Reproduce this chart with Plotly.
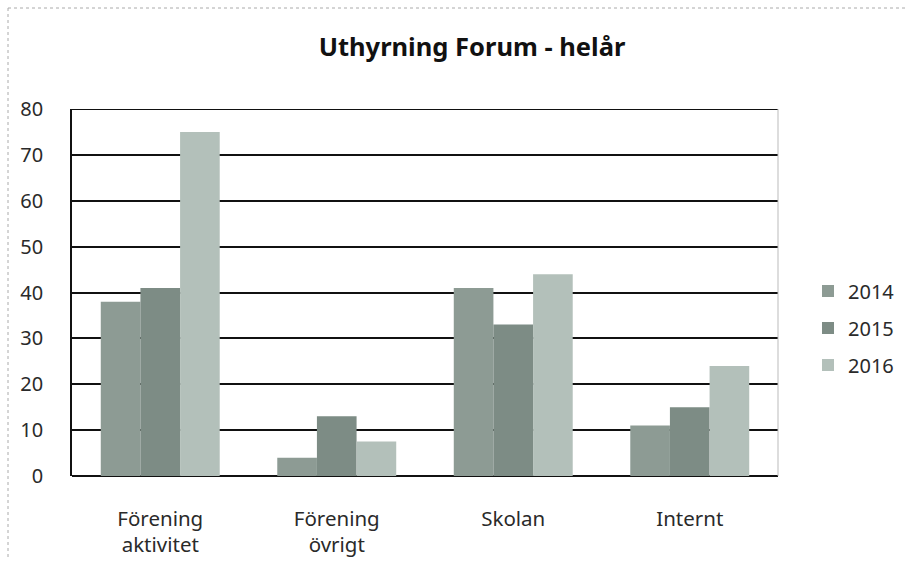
import plotly.graph_objects as go

categories = ["Förening<br>aktivitet", "Förening<br>övrigt", "Skolan", "Internt"]
years = ["2014", "2015", "2016"]
values_2014 = [38, 4, 41, 11]
values_2015 = [41, 13, 33, 15]
values_2016 = [75, 7.5, 44, 24]
tick_vals = [0, 10, 20, 30, 40, 50, 60, 70, 80]

colors = ["#8d9b94", "#7d8c85", "#b3c0ba"]
series = [values_2014, values_2015, values_2016]

fig = go.Figure()
for name, vals, c in zip(years, series, colors):
    fig.add_trace(go.Bar(x=categories, y=vals, name=name, legendgroup=name,
                         marker=dict(color=c, line=dict(width=0))))

W, H = 911, 562
L, R, T, B = 72, 133, 109, 86
pw, ph = W - L - R, H - T - B

def px_x(p):
    return (p - L) / pw

def px_y(p):
    return (H - B - p) / ph

fig.update_layout(
    width=W, height=H,
    margin=dict(l=L, r=R, t=T, b=B, autoexpand=False),
    paper_bgcolor="white", plot_bgcolor="white",
    barmode="group", bargap=0.326, bargroupgap=0,
    font=dict(family="Noto Sans, Open Sans, sans-serif", color="#2a2a2a", size=20),
    title=dict(text="<b>Uthyrning Forum - helår</b>", x=472 / W, xanchor="center",
               y=1 - 47 / H, yanchor="middle", font=dict(size=25.5, color="#111")),
    yaxis=dict(range=[0, 80], tickvals=tick_vals, showgrid=True, gridcolor="#111", gridwidth=2,
               zeroline=True, zerolinecolor="#111", zerolinewidth=2,
               showline=True, linecolor="#111", linewidth=1.5,
               ticks="", tickfont=dict(size=20), ticklabelstandoff=23),
    xaxis=dict(showline=False, ticks="", tickfont=dict(size=20.5), ticklabelstandoff=28),
    legend=dict(x=px_x(808), y=px_y(328), xanchor="left", yanchor="middle",
                font=dict(size=20), tracegroupgap=8, traceorder="grouped", itemwidth=30),
    shapes=[
        dict(type="line", xref="paper", yref="y", x0=0, x1=1, y0=80, y1=80,
             line=dict(color="#111", width=2)),
        dict(type="line", xref="paper", yref="paper", x0=px_x(8), x1=px_x(905), y0=px_y(8), y1=px_y(8),
             line=dict(color="#aaa", width=1, dash="dot")),
        dict(type="line", xref="paper", yref="paper", x0=px_x(8), x1=px_x(8), y0=px_y(8), y1=px_y(560),
             line=dict(color="#aaa", width=1, dash="dot")),
        dict(type="line", xref="paper", yref="paper", x0=1, x1=1, y0=0, y1=1,
             line=dict(color="#bbb", width=1)),
    ],
)

fig.write_html("out.html", config={"displayModeBar": False},
               post_script="document.body.style.margin='0';")
